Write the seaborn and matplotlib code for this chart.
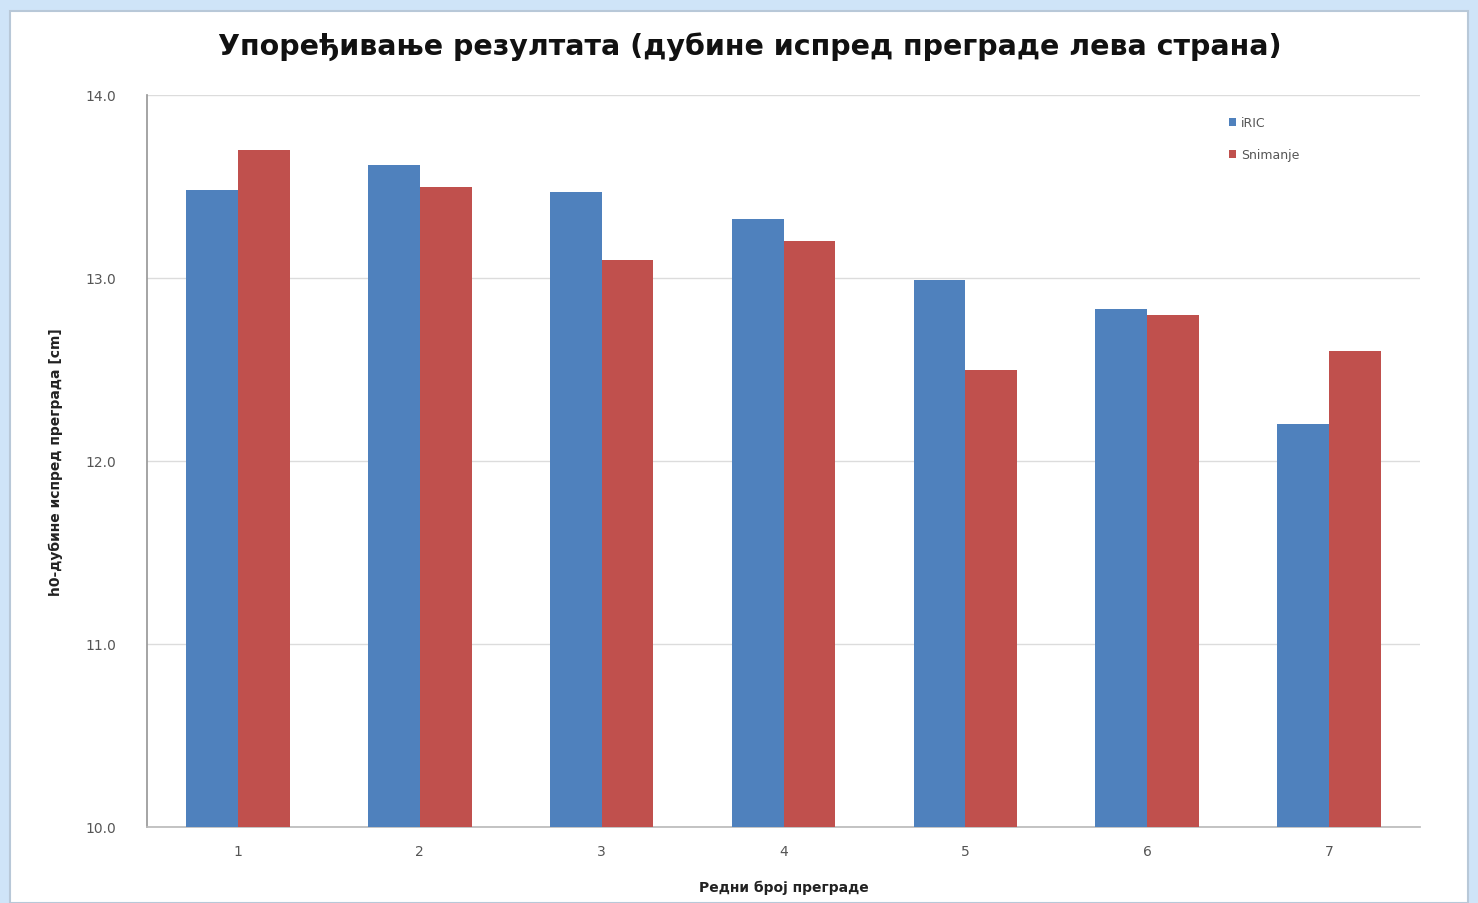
import numpy as np
import pandas as pd
import matplotlib
matplotlib.use("Agg")
import matplotlib.pyplot as plt
from matplotlib.patches import Rectangle
import seaborn as sns

categories = ["1", "2", "3", "4", "5", "6", "7"]
iric = [13.48, 13.62, 13.47, 13.32, 12.99, 12.83, 12.20]
snimanje = [13.70, 13.50, 13.10, 13.20, 12.50, 12.80, 12.60]
series_names = ["iRIC", "Snimanje"]
yticks = [10.0, 11.0, 12.0, 13.0, 14.0]

df = pd.DataFrame({
    "cat": categories * 2,
    "val": iric + snimanje,
    "series": [series_names[0]] * len(categories) + [series_names[1]] * len(categories),
})

sns.set_theme(style="white")
plt.rcParams['font.family'] = ['DejaVu Sans']

fig = plt.figure(figsize=(14.78, 9.04), dpi=100)
fig.patch.set_facecolor("#cfe4f8")
fig.add_artist(Rectangle((10/1478, 0), 1458/1478, 1 - 12/904, transform=fig.transFigure,
                         facecolor="white", edgecolor="#b8c8d8", lw=1.5, zorder=0))

ax = fig.add_axes([147/1478, 1 - 828/904, (1420-147)/1478, (828-96)/904])
ax.set_facecolor("none")
sns.barplot(data=df, x="cat", y="val", hue="series", ax=ax,
            palette=["#4f81bd", "#c0504d"], width=0.57, saturation=1, zorder=3,
            linewidth=0)
ax.set_ylim(10, 14)
ax.set_yticks(yticks)
ax.set_yticklabels([f"{v:.1f}" for v in yticks], fontsize=10, color="#555555")
ax.tick_params(axis="x", labelsize=10, colors="#555555", length=0, pad=12)
ax.tick_params(axis="y", length=4, color="#999999", pad=18)
ax.grid(axis="y", color="#dcdcdc", lw=1, zorder=0)
for s in ["top", "right"]:
    ax.spines[s].set_visible(False)
ax.spines["left"].set_color("#999999")
ax.spines["bottom"].set_color("#bbbbbb")
ax.set_xlabel("Редни број преграде", fontsize=10, fontweight="bold", color="#222222", labelpad=16)
ax.set_ylabel("h0-дубине испред преграда [cm]", fontsize=10, fontweight="bold", color="#222222")
ax.yaxis.set_label_coords(-0.066, 0.5)

leg = ax.legend(loc="upper left", bbox_to_anchor=(0.84, 0.988), frameon=False, fontsize=9,
                handlelength=0.6, handleheight=0.6, labelspacing=1.5, handletextpad=0.4,
                borderaxespad=0.6)
for t in leg.get_texts():
    t.set_color("#555555")

fig.text(0.507, 1 - 47/904, "Упоређивање резултата (дубине испред преграде лева страна)",
         ha="center", va="center", fontsize=20.5, fontweight="bold", color="#111111")

fig.savefig("out.png", dpi=100, facecolor=fig.get_facecolor())
